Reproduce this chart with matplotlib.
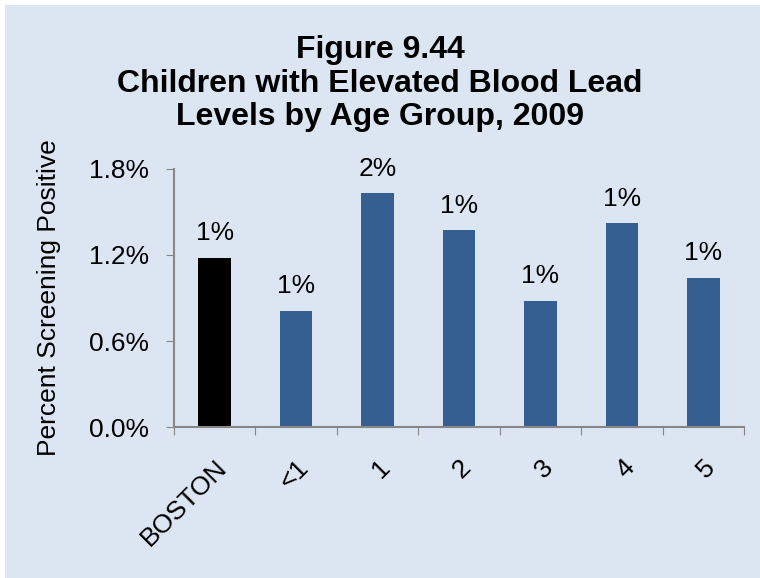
import matplotlib.pyplot as plt
from matplotlib.patches import Rectangle
from matplotlib.ticker import FuncFormatter

categories = ['BOSTON', '<1', '1', '2', '3', '4', '5']
values = [1.18, 0.81, 1.63, 1.37, 0.88, 1.42, 1.04]
labels = ['1%', '1%', '2%', '1%', '1%', '1%', '1%']
colors = ['#000000'] + ['#365f91'] * 6

plt.rcParams['font.family'] = ['Liberation Sans', 'DejaVu Sans']

bg = '#dce6f2'
fig = plt.figure(figsize=(7.6, 5.78), dpi=100, facecolor='white')
fig.patches.append(Rectangle((5 / 760, 0), 1, 1 - 5 / 578, transform=fig.transFigure,
                             facecolor=bg, edgecolor='none', zorder=-1))
ax = fig.add_axes([0.229, 0.261, 0.75, 0.447])
ax.set_facecolor(bg)

x = range(len(categories))
ax.bar(x, values, width=0.4, color=colors)
for xi, v, lab in zip(x, values, labels):
    ax.annotate(lab, (xi, v), xytext=(0, 9), textcoords='offset points',
                ha='center', va='bottom', fontsize=19)

ax.set_xlim(-0.5, len(categories) - 0.5)
ax.set_ylim(0, 1.8)
ax.set_yticks([0, 0.6, 1.2, 1.8])
ax.yaxis.set_major_formatter(FuncFormatter(lambda v, p: f'{v:.1f}%'))
ax.set_xticks([i - 0.5 for i in range(len(categories) + 1)], minor=False)
ax.set_xticklabels([])
ax.set_xticks(list(x), minor=True)
ax.set_xticklabels(categories, minor=True, rotation=45, ha='right',
                   rotation_mode='anchor', fontsize=19)
ax.tick_params(axis='x', which='minor', length=0, pad=20)
ax.tick_params(axis='x', which='major', length=6, color='#868686', direction='out')
ax.tick_params(axis='y', length=6, color='#868686', labelsize=19, pad=12)

for s in ['top', 'right']:
    ax.spines[s].set_visible(False)
for s in ['left', 'bottom']:
    ax.spines[s].set_color('#868686')
    ax.spines[s].set_linewidth(1.5)

ax.set_ylabel('Percent Screening Positive', fontsize=19, labelpad=20)
fig.text(0.5, 0.855, 'Figure 9.44\nChildren with Elevated Blood Lead\nLevels by Age Group, 2009',
         ha='center', va='center', fontsize=23, fontweight='bold', linespacing=1.15)

fig.savefig('out.png', dpi=100, facecolor=fig.get_facecolor())
